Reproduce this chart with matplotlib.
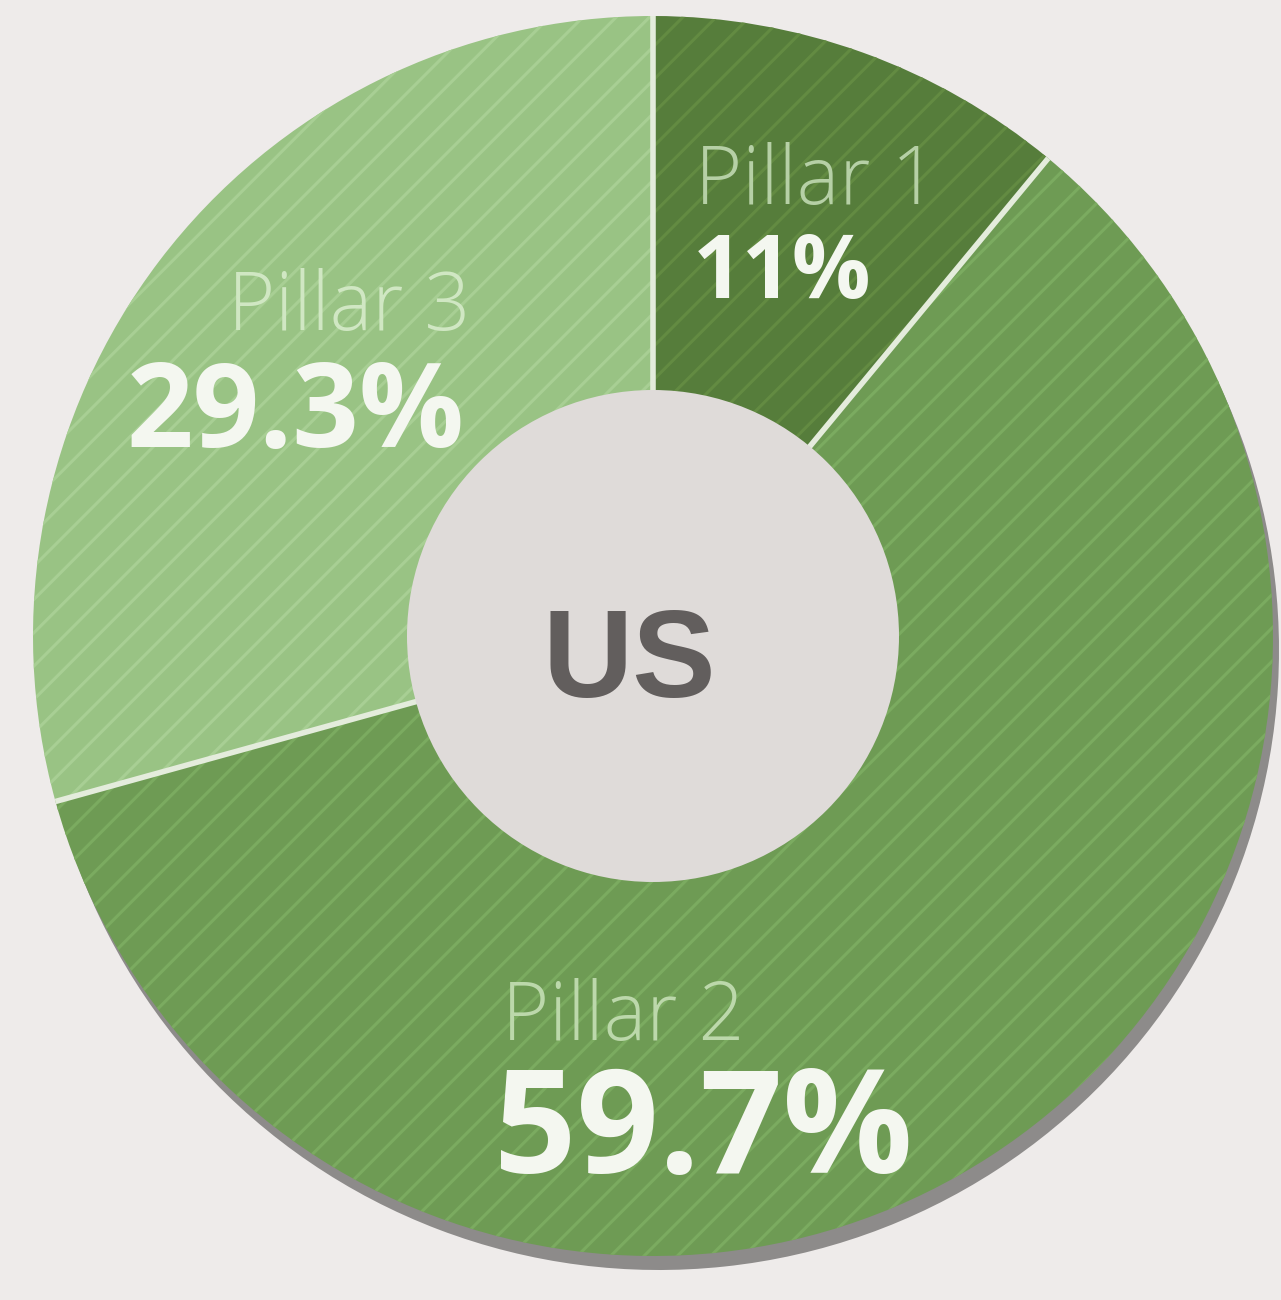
import numpy as np
import matplotlib.pyplot as plt
import matplotlib as mpl
from matplotlib.patches import Circle

mpl.rcParams['hatch.linewidth'] = 2.2

# chart data
labels = ['Pillar 1', 'Pillar 2', 'Pillar 3']
shares = [11.0, 59.7, 29.3]
pct_labels = ['11%', '59.7%', '29.3%']
centre_label = 'US'

face_colors = ['#567d3b', '#6e9b54', '#99c384']
stripe_colors = ['#638b42', '#7bab60', '#a8cf94']
name_colors = ['#b6d0a6', '#bcd8ab', '#d0e7c3']
pct_color = '#f4f7f0'
gap_color = '#e4ecdc'

W, H = 1281, 1300
fig = plt.figure(figsize=(W / 100, H / 100), dpi=100)
fig.patch.set_facecolor('#eeebea')
ax = fig.add_axes([0, 0, 1, 1])
ax.set_facecolor('#eeebea')

cx, cy = 653, H - 636
R, r_in = 620, 245

# drop shadow under pillar 2
ax.pie(shares, startangle=90, counterclock=False, radius=R, center=(cx + 6, cy - 14),
       colors=['none', '#8d8b8a', 'none'],
       wedgeprops=dict(width=R - r_in, linewidth=0))

wedges, _ = ax.pie(shares, startangle=90, counterclock=False, radius=R, center=(cx, cy),
                   colors=face_colors, wedgeprops=dict(width=R - r_in, linewidth=0))
for w, sc in zip(wedges, stripe_colors):
    w.set_hatch('/')
    w.set_edgecolor(sc)
    w.set_linewidth(0)

# thin light gaps between the slices (radial lines only)
bounds = 90 - 360 * np.cumsum([0] + shares[:-1]) / sum(shares)
for a in np.deg2rad(bounds):
    ax.plot([cx + r_in * np.cos(a), cx + R * np.cos(a)],
            [cy + r_in * np.sin(a), cy + R * np.sin(a)],
            color=gap_color, lw=4, solid_capstyle='butt', zorder=3)

ax.add_patch(Circle((cx, cy), r_in + 1, facecolor='#dfdbd9', edgecolor='none', zorder=5))
ax.text(629, H - 697, centre_label, ha='center', va='baseline', fontsize=90,
        family='Liberation Sans', fontweight='bold', color='#625e5d', zorder=6)

# slice labels
name_kw = dict(family='Open Sans', fontweight='light', fontsize=58, va='baseline', zorder=6)
pct_kw = dict(family='Open Sans', fontweight='bold', color=pct_color, va='baseline', zorder=6)

ax.text(695, H - 204, labels[0], ha='left', color=name_colors[0], **name_kw)
ax.text(693, H - 298, pct_labels[0], ha='left', fontsize=63, **pct_kw)

ax.text(470, H - 330, labels[2], ha='right', color=name_colors[2], **name_kw)
ax.text(465, H - 447, pct_labels[2], ha='right', fontsize=84, **pct_kw)

ax.text(502, H - 1040, labels[1], ha='left', color=name_colors[1], **name_kw)
ax.text(494, H - 1173, pct_labels[1], ha='left', fontsize=104, **pct_kw)

ax.set_xlim(0, W)
ax.set_ylim(0, H)
ax.set_aspect('auto')
ax.axis('off')

fig.savefig('out.png', dpi=100, facecolor=fig.get_facecolor())
